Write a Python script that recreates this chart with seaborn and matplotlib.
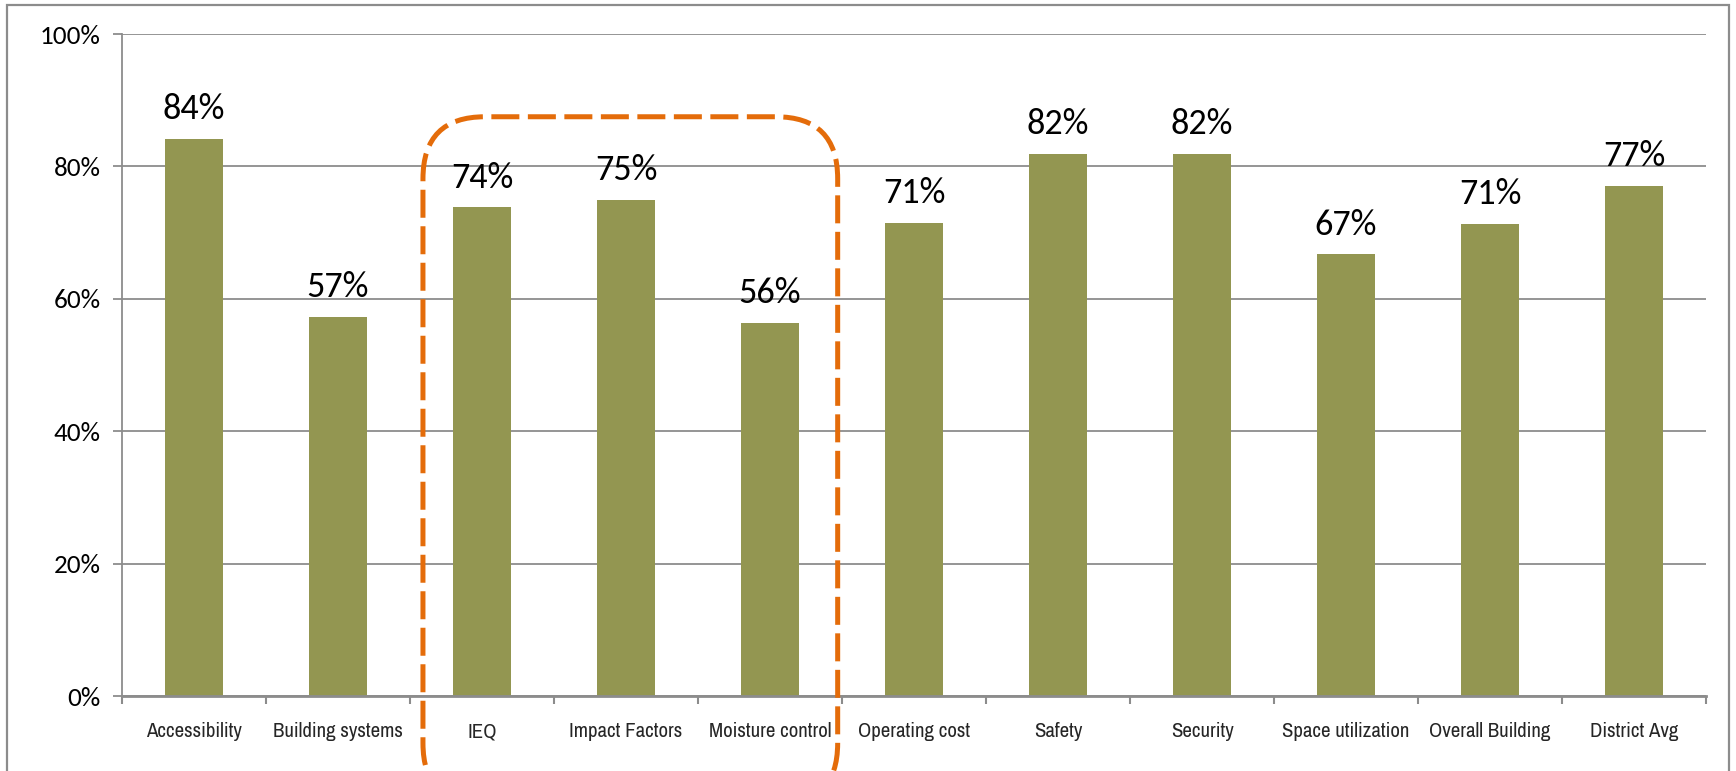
import matplotlib
matplotlib.use("Agg")
import matplotlib.pyplot as plt
import seaborn as sns
import pandas as pd
from matplotlib.patches import FancyBboxPatch, Rectangle
from matplotlib.transforms import IdentityTransform
from matplotlib import font_manager

# ---------------- data ----------------
categories = ["Accessibility", "Building systems", "IEQ", "Impact Factors",
              "Moisture control", "Operating cost", "Safety", "Security",
              "Space utilization", "Overall Building", "District Avg"]
values = [84.2, 57.2, 73.8, 75.0, 56.3, 71.4, 81.9, 81.9, 66.7, 71.3, 77.0]
value_labels = [f"{round(v)}%" for v in values]
yticks = [0, 20, 40, 60, 80, 100]
ytick_labels = [f"{t}%" for t in yticks]
highlight = ["IEQ", "Impact Factors", "Moisture control"]

# ---------------- fonts ----------------
names = {f.name for f in font_manager.fontManager.ttflist}


def pick(cands, default="DejaVu Sans"):
    for c in cands:
        if c in names:
            return c
    return default


body_font = pick(["Carlito", "Lato", "Open Sans"])
narrow_font = pick(["Liberation Sans Narrow", "Arimo Narrow", "Archivo Narrow",
                    "PT Sans Narrow", "Roboto Condensed", "Open Sans Condensed"])

sns.set_theme(style="white")
plt.rcParams["font.family"] = [body_font, "DejaVu Sans"]

BAR = "#939651"
GRID = "#8c8c8c"
ORANGE = "#E46C0A"

W, H = 1736, 771
fig = plt.figure(figsize=(W / 100, H / 100), dpi=100)
fig.patch.set_facecolor("white")
left, right, top, bottom = 122, 1706, 34, 696
ax = fig.add_axes([left / W, 1 - bottom / H, (right - left) / W, (bottom - top) / H])

df = pd.DataFrame({"category": categories, "value": values})
sns.barplot(data=df, x="category", y="value", color=BAR, saturation=1,
            width=0.4, ax=ax, edgecolor="none")

ax.set_xlim(-0.5, len(categories) - 0.5)
ax.set_ylim(0, 100)
ax.set_yticks(yticks)
ax.set_yticklabels(ytick_labels, fontsize=19.5, color="black")
ax.set_xlabel("")
ax.set_ylabel("")

# x labels centered, tick marks at category boundaries
ax.set_xticks(range(len(categories)))
ax.set_xticklabels(categories, family=[narrow_font, "DejaVu Sans"], fontsize=15)
ax.set_xticks([i - 0.5 for i in range(len(categories) + 1)], minor=True)
ax.tick_params(axis="x", which="major", length=0, pad=19)
ax.tick_params(axis="x", which="minor", length=5.5, width=1.5, color=GRID,
               direction="out", bottom=True)
ax.tick_params(axis="y", which="major", length=6.5, width=1.3, color=GRID,
               direction="out", left=True, pad=9)

ax.yaxis.grid(True, color=GRID, linewidth=1.3)
ax.set_axisbelow(True)
for s in ["top", "right"]:
    ax.spines[s].set_visible(False)
ax.spines["left"].set_color(GRID)
ax.spines["left"].set_linewidth(1.3)
ax.spines["bottom"].set_color(GRID)
ax.spines["bottom"].set_linewidth(2.0)

ax.bar_label(ax.containers[0], labels=value_labels, padding=10, fontsize=26,
             color="black")

# ---------------- highlight box (dashed, rounded) ----------------
i0 = categories.index(highlight[0])
i1 = categories.index(highlight[-1])
fig.canvas.draw()
(x0, y0) = ax.transData.transform((i0 - 0.41, -16.5))
(x1, y1) = ax.transData.transform((i1 + 0.47, 87.5))
box = FancyBboxPatch((x0, y0), x1 - x0, y1 - y0,
                     boxstyle="round,pad=0,rounding_size=62",
                     transform=IdentityTransform(), fill=False,
                     edgecolor=ORANGE, linewidth=3.6,
                     linestyle=(0, (5.6, 1.7)), clip_on=False, zorder=10)
fig.add_artist(box)

# ---------------- chart-area border ----------------
border = Rectangle((7, -20), W - 14, H - 5 + 20, transform=IdentityTransform(),
                   fill=False, edgecolor=GRID, linewidth=1.6, clip_on=False)
fig.add_artist(border)

fig.savefig("out.png", dpi=100, facecolor="white")
